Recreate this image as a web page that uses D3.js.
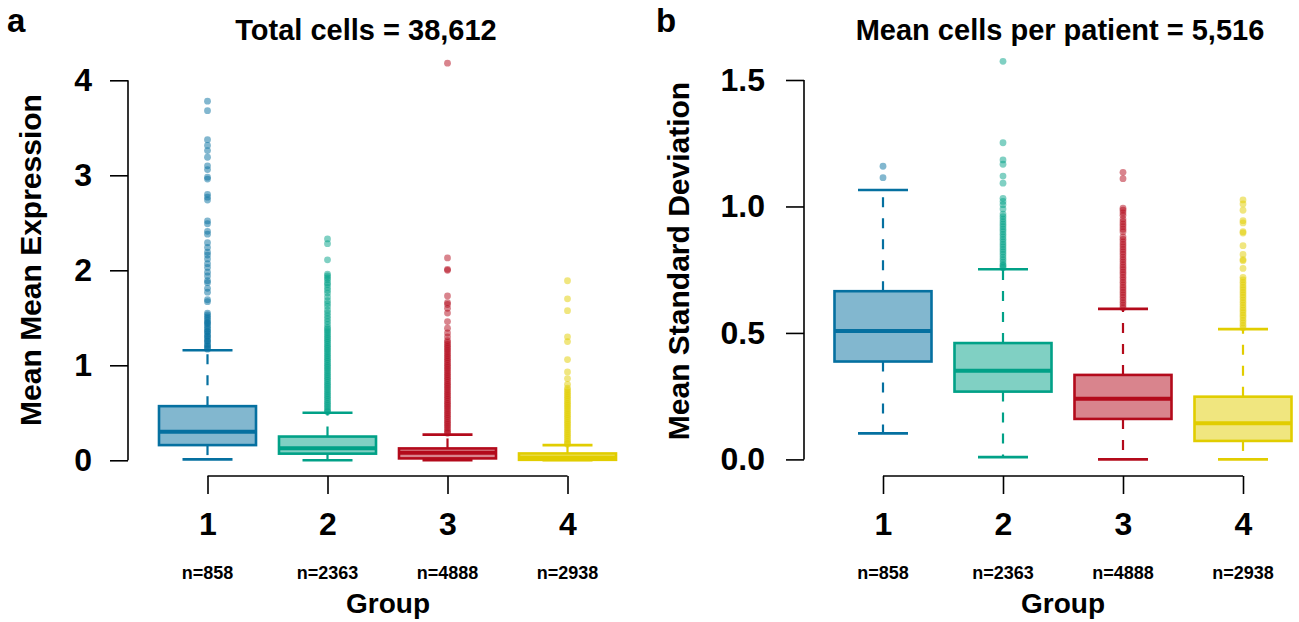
<!DOCTYPE html>
<html>
<head>
<meta charset="utf-8">
<script src="https://cdn.jsdelivr.net/npm/d3@7"></script>
<style>
  body { margin: 0; background: #fff; }
  text { font-family: "Liberation Sans", Arial, Helvetica, sans-serif; font-weight: bold; fill: #000; }
</style>
</head>
<body>
<svg width="1299" height="622"></svg>
<script>
// Group labels and cell counts
var groups = [1, 2, 3, 4];
var nCounts = [858, 2363, 4888, 2938];
var colors = ["#0570a0", "#01a187", "#b30a1b", "#e1cd00"];

// Box stats per group: [lower whisker, q1, median, q3, upper whisker]
var exprBoxes = [
  [0.01, 0.16, 0.30, 0.57, 1.158],
  [0.0, 0.07, 0.126, 0.25, 0.50],
  [0.0, 0.02, 0.08, 0.125, 0.27],
  [0.0, 0.005, 0.03, 0.072, 0.16]
];
var sdBoxes = [
  [0.103, 0.387, 0.508, 0.665, 1.065],
  [0.009, 0.268, 0.35, 0.46, 0.752],
  [0.0, 0.16, 0.24, 0.334, 0.595],
  [0.0, 0.073, 0.143, 0.248, 0.515]
];

// Outliers (panel a)
var exprOut1 = [3.78, 3.68, 3.375, 3.315, 3.26, 3.19, 3.10, 3.06, 2.98, 2.96, 2.80, 2.77, 2.74, 2.52, 2.49,
  2.41, 2.38, 2.29, 2.24, 2.19, 2.16, 2.12, 2.07, 2.03, 1.98, 1.94, 1.89, 1.87, 1.81, 1.77, 1.69, 1.67,
  1.55, 1.53, 1.51, 1.49, 1.47, 1.45, 1.44, 1.42, 1.40, 1.38, 1.36, 1.35, 1.33, 1.31, 1.30, 1.28, 1.26,
  1.25, 1.23, 1.21, 1.20, 1.18, 1.17];
var exprOut2 = [2.33, 2.28, 2.11, 1.96, 1.94, 1.92, 1.90, 1.87, 1.85, 1.82, 1.79, 1.76, 1.72, 1.68, 1.65,
  1.62, 1.58, 1.55, 1.52, 1.49, 1.46, 1.43, 1.40, 1.38, 1.36, 1.34, 1.32, 1.30, 1.28, 1.26, 1.24, 1.22,
  1.20, 1.18, 1.16, 1.14, 1.12, 1.10, 1.08, 1.06, 1.04, 1.02, 1.00, 0.98, 0.96, 0.94, 0.92, 0.90, 0.88,
  0.86, 0.84, 0.82, 0.80, 0.78, 0.76, 0.74, 0.72, 0.70, 0.68, 0.66, 0.64, 0.62, 0.60, 0.58, 0.56, 0.54,
  0.52, 0.51];
var exprOut3 = [4.18, 2.13, 2.01, 2.00, 1.73, 1.66, 1.64, 1.60, 1.55, 1.46, 1.39, 1.34, 1.30, 1.26, 1.24,
  1.22, 1.20, 1.18, 1.16, 1.14, 1.12, 1.10, 1.08, 1.06, 1.04, 1.02, 1.00, 0.98, 0.96, 0.94, 0.92, 0.90,
  0.88, 0.86, 0.84, 0.82, 0.80, 0.78, 0.76, 0.74, 0.72, 0.70, 0.68, 0.66, 0.64, 0.62, 0.60, 0.58, 0.56,
  0.54, 0.52, 0.50, 0.48, 0.46, 0.44, 0.42, 0.40, 0.38, 0.36, 0.34, 0.32, 0.30, 0.285];
var exprOut4 = [1.89, 1.70, 1.575, 1.30, 1.25, 1.06, 0.93, 0.86, 0.80, 0.76, 0.74, 0.72, 0.70, 0.68, 0.66,
  0.64, 0.62, 0.60, 0.58, 0.56, 0.54, 0.52, 0.50, 0.48, 0.46, 0.44, 0.42, 0.40, 0.38, 0.36, 0.34, 0.32,
  0.30, 0.28, 0.26, 0.24, 0.22, 0.20, 0.18, 0.17];

// Outliers (panel b)
var sdOut1 = [1.159, 1.114];
var sdOut2 = [1.574, 1.252, 1.184, 1.167, 1.12, 1.092, 1.032, 1.02, 1.007, 0.99, 0.97, 0.96, 0.95, 0.94,
  0.93, 0.92, 0.91, 0.90, 0.89, 0.88, 0.87, 0.86, 0.85, 0.84, 0.83, 0.82, 0.81, 0.80, 0.79, 0.78, 0.77,
  0.765, 0.758];
var sdOut3 = [1.135, 1.11, 0.993, 0.985, 0.975, 0.965, 0.95, 0.94, 0.93, 0.92, 0.91, 0.90, 0.88, 0.87,
  0.86, 0.85, 0.84, 0.83, 0.82, 0.81, 0.80, 0.79, 0.78, 0.77, 0.76, 0.75, 0.74, 0.73, 0.72, 0.71, 0.70,
  0.69, 0.68, 0.67, 0.66, 0.65, 0.64, 0.63, 0.62, 0.61, 0.60];
var sdOut4 = [1.026, 1.01, 0.985, 0.944, 0.935, 0.90, 0.895, 0.845, 0.81, 0.79, 0.785, 0.755, 0.72, 0.71,
  0.70, 0.69, 0.68, 0.67, 0.66, 0.65, 0.64, 0.63, 0.62, 0.61, 0.60, 0.59, 0.58, 0.57, 0.56, 0.55, 0.54,
  0.53, 0.52];

var exprTicks = [0, 1, 2, 3, 4];
var sdTicks = [0, 0.5, 1.0, 1.5];

var svg = d3.select("svg");

//Draw one boxplot panel
function drawPanel(p) {
  var g = svg.append("g");

  var x = d3.scaleLinear().domain([1, 4]).range(p.xRange);
  var y = d3.scaleLinear().domain(p.yDomain).range(p.yRange);

  //Y axis (R style: line spans the tick range, ticks out to the left)
  var yAxis = d3.axisLeft(y).tickValues(p.ticks).tickFormat(p.fmt).tickSize(18).tickPadding(p.yPad);
  var ya = g.append("g")
    .attr("transform", "translate(" + p.yAxisX + ",0)")
    .call(yAxis);
  ya.select(".domain").remove();
  ya.append("line")
    .attr("x1", 0).attr("x2", 0)
    .attr("y1", y(p.ticks[0])).attr("y2", y(p.ticks[p.ticks.length - 1]))
    .attr("stroke", "#000").attr("stroke-width", 1.6);
  ya.selectAll(".tick line").attr("stroke", "#000").attr("stroke-width", 1.6);
  ya.selectAll(".tick text")
    .style("font-size", "32px")
    .style("font-family", "Liberation Sans, Arial, sans-serif")
    .style("font-weight", "bold")
    .attr("fill", "#000");

  //X axis
  var xAxis = d3.axisBottom(x).tickValues(groups).tickFormat(d3.format("d")).tickSize(18).tickPadding(18);
  var xa = g.append("g")
    .attr("transform", "translate(0," + p.xAxisY + ")")
    .call(xAxis);
  xa.select(".domain").remove();
  xa.append("line")
    .attr("x1", x(1)).attr("x2", x(4))
    .attr("y1", 0).attr("y2", 0)
    .attr("stroke", "#000").attr("stroke-width", 1.6);
  xa.selectAll(".tick line").attr("stroke", "#000").attr("stroke-width", 1.6);
  xa.selectAll(".tick text")
    .style("font-size", "32px")
    .style("font-family", "Liberation Sans, Arial, sans-serif")
    .style("font-weight", "bold")
    .attr("fill", "#000");

  //n= labels under the groups
  g.selectAll(".nlab")
    .data(groups)
    .enter()
    .append("text")
    .attr("class", "nlab")
    .attr("x", function(d) { return x(d); })
    .attr("y", 579)
    .attr("text-anchor", "middle")
    .style("font-size", "18px")
    .text(function(d, i) { return "n=" + nCounts[i]; });

  var hw = 48.5, cw = 25;

  p.boxes.forEach(function(b, i) {
    var cx = x(groups[i]), c = colors[i];

    //Dashed whiskers
    g.append("line")
      .attr("x1", cx).attr("x2", cx)
      .attr("y1", y(b[3])).attr("y2", y(b[4]))
      .attr("stroke", c).attr("stroke-width", 2.2)
      .attr("stroke-dasharray", "10,11");
    g.append("line")
      .attr("x1", cx).attr("x2", cx)
      .attr("y1", y(b[1])).attr("y2", y(b[0]))
      .attr("stroke", c).attr("stroke-width", 2.2)
      .attr("stroke-dasharray", "10,11");

    //Whisker caps
    [b[0], b[4]].forEach(function(v) {
      g.append("line")
        .attr("x1", cx - cw).attr("x2", cx + cw)
        .attr("y1", y(v)).attr("y2", y(v))
        .attr("stroke", c).attr("stroke-width", 2.6);
    });

    //Box
    g.append("rect")
      .attr("x", cx - hw)
      .attr("y", y(b[3]))
      .attr("width", 2 * hw)
      .attr("height", y(b[1]) - y(b[3]))
      .attr("fill", c).attr("fill-opacity", 0.5)
      .attr("stroke", c).attr("stroke-width", 2.6);

    //Median
    g.append("line")
      .attr("x1", cx - hw).attr("x2", cx + hw)
      .attr("y1", y(b[2])).attr("y2", y(b[2]))
      .attr("stroke", c).attr("stroke-width", 4);

    //Outliers
    g.selectAll(".out" + i)
      .data(p.outliers[i])
      .enter()
      .append("circle")
      .attr("class", "out" + i)
      .attr("cx", cx)
      .attr("cy", function(d) { return y(d); })
      .attr("r", 3.4)
      .attr("fill", c)
      .attr("fill-opacity", 0.5);
  });

  //Titles and axis labels
  g.append("text")
    .attr("x", p.titleX).attr("y", 40)
    .attr("text-anchor", "middle")
    .style("font-size", "29px")
    .text(p.title);

  g.append("text")
    .attr("x", p.letterX).attr("y", 32)
    .style("font-size", "33px")
    .text(p.letter);

  g.append("text")
    .attr("transform", "translate(" + p.ylabX + "," + p.ylabY + ") rotate(-90)")
    .attr("text-anchor", "middle")
    .style("font-size", "30px")
    .text(p.ylab);

  g.append("text")
    .attr("x", p.groupX).attr("y", 613)
    .attr("text-anchor", "middle")
    .style("font-size", "28px")
    .text("Group");
}

drawPanel({
  xRange: [207.5, 567.5],
  yDomain: [0, 4], yRange: [460.3, 80.3],
  ticks: exprTicks, fmt: d3.format("d"), yPad: 18,
  yAxisX: 128, xAxisY: 476,
  boxes: exprBoxes,
  outliers: [exprOut1, exprOut2, exprOut3, exprOut4],
  title: "Total cells = 38,612", titleX: 366,
  letter: "a", letterX: 7,
  ylab: "Mean Mean Expression", ylabX: 41, ylabY: 260,
  groupX: 388
});

drawPanel({
  xRange: [883, 1243],
  yDomain: [0, 1.5], yRange: [459.4, 80],
  ticks: sdTicks, fmt: d3.format(".1f"), yPad: 21,
  yAxisX: 804, xAxisY: 476,
  boxes: sdBoxes,
  outliers: [sdOut1, sdOut2, sdOut3, sdOut4],
  title: "Mean cells per patient = 5,516", titleX: 1060,
  letter: "b", letterX: 656,
  ylab: "Mean Standard Deviation", ylabX: 689, ylabY: 261,
  groupX: 1063
});
</script>
</body>
</html>
